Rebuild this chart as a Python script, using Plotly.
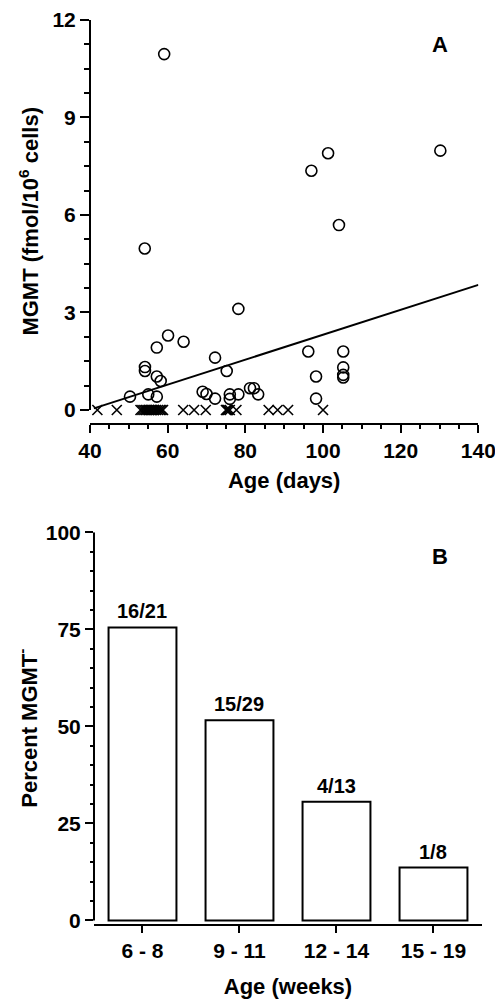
import plotly.graph_objects as go

# ---------------- Panel A data ----------------
pos_days = [59.1, 54.1, 78.2, 60.1, 64.1, 57.2, 72.2, 54.15, 54.15, 75.2,
            57.2, 58.2, 50.3, 55.0, 57.2, 69.0, 70.0, 72.2, 76.0, 76.0,
            78.2, 81.2, 82.2, 83.3, 96.2, 98.2, 98.2, 105.2, 105.2, 105.2,
            105.2, 97.0, 101.3, 104.1, 130.2]
pos_mgmt = [10.95, 4.97, 3.11, 2.29, 2.10, 1.92, 1.61, 1.32, 1.20, 1.20,
            1.03, 0.89, 0.41, 0.48, 0.41, 0.56, 0.49, 0.35, 0.48, 0.34,
            0.48, 0.67, 0.67, 0.48, 1.80, 1.03, 0.35, 1.80, 1.31, 1.08,
            1.00, 7.36, 7.90, 5.69, 7.98]

neg_days = [41.9, 46.9, 53.0, 53.5, 54.0, 54.4, 54.8, 55.2, 55.6, 56.0,
            56.5, 57.0, 57.5, 58.0, 58.4, 58.8, 64.0, 66.8, 69.8, 75.0,
            75.3, 75.6, 76.0, 77.7, 86.0, 88.3, 91.0, 100.0]
neg_mgmt = [0.0] * len(neg_days)

fit_days = [41.0, 140.0]
fit_mgmt = [0.05, 3.85]

# ---------------- Panel B data ----------------
week_groups = ["6 - 8", "9 - 11", "12 - 14", "15 - 19"]
pct_negative = [75.5, 51.6, 30.6, 13.6]
ratio_labels = ["16/21", "15/29", "4/13", "1/8"]

FONT = "Liberation Sans, Arial, sans-serif"

fig = go.Figure()

fig.add_trace(go.Scatter(
    x=fit_days, y=fit_mgmt, mode="lines",
    line=dict(color="black", width=2),
    xaxis="x", yaxis="y", showlegend=False, hoverinfo="skip"))

fig.add_trace(go.Scatter(
    x=pos_days, y=pos_mgmt, mode="markers",
    marker=dict(symbol="circle-open", size=11, color="black",
                line=dict(width=1.6, color="black")),
    xaxis="x", yaxis="y", showlegend=False, cliponaxis=False))

fig.add_trace(go.Scatter(
    x=neg_days, y=neg_mgmt, mode="markers",
    marker=dict(symbol="x-thin-open", size=10, color="black",
                line=dict(width=1.6, color="black")),
    xaxis="x", yaxis="y", showlegend=False, cliponaxis=False))

fig.add_trace(go.Bar(
    x=week_groups, y=pct_negative,
    marker=dict(color="white", line=dict(color="black", width=2)),
    width=0.7, xaxis="x2", yaxis="y2", showlegend=False))

tickfont = dict(family=FONT, size=21, color="black", weight="bold")
titlefont = dict(family=FONT, size=22, color="black", weight="bold")

annotations = [
    dict(text="A", x=130, y=11.26, xref="x", yref="y", showarrow=False,
         font=dict(family=FONT, size=22, color="black", weight="bold")),
    dict(text="B", x=3.07, y=93.7, xref="x2", yref="y2", showarrow=False,
         font=dict(family=FONT, size=22, color="black", weight="bold")),
]
for grp, val, lab in zip(week_groups, pct_negative, ratio_labels):
    annotations.append(dict(
        text=lab, x=grp, y=val, xref="x2", yref="y2", showarrow=False,
        yanchor="middle", yshift=16,
        font=dict(family=FONT, size=20, color="black", weight="bold")))

fig.update_layout(
    width=503, height=1006,
    margin=dict(l=82, r=29, t=12, b=90, autoexpand=False),
    paper_bgcolor="white", plot_bgcolor="white",
    font=dict(family=FONT, color="black", weight="bold"),
    xaxis=dict(
        domain=[0, 0.9908], range=[40, 140], anchor="y", automargin=False,
        tickmode="linear", tick0=40, dtick=20,
        ticks="outside", ticklen=8, tickwidth=2, tickcolor="black",
        minor=dict(dtick=5, tick0=40, ticks="outside", ticklen=4,
                   tickwidth=1.5, tickcolor="black"),
        showline=True, linecolor="black", linewidth=2,
        showgrid=False, zeroline=False, tickfont=tickfont,
        title=dict(text="Age (days)", font=titlefont, standoff=12)),
    yaxis=dict(
        domain=[0.5546, 1], range=[-0.39, 12], anchor="x", automargin=False,
        tickmode="linear", tick0=0, dtick=3,
        ticks="outside", ticklen=9, tickwidth=2, tickcolor="black",
        minor=dict(dtick=0.75, tick0=0, ticks="outside", ticklen=5,
                   tickwidth=1.5, tickcolor="black"),
        showline=False, showgrid=False, zeroline=False,
        tickfont=tickfont, ticklabelstandoff=0,
        title=dict(text="MGMT (fmol/10<sup>6</sup> cells)", font=titlefont,
                   standoff=7)),
    xaxis2=dict(
        domain=[0.0102, 1], range=[-0.5, 3.5], anchor="y2", automargin=False,
        ticks="outside", ticklen=7, tickwidth=2, tickcolor="black",
        showline=True, linecolor="black", linewidth=2,
        showgrid=False, zeroline=False, tickfont=tickfont,
        title=dict(text="Age (weeks)", font=titlefont, standoff=17)),
    yaxis2=dict(
        domain=[0, 0.4333], range=[-0.93, 100], anchor="x2", automargin=False,
        tickmode="linear", tick0=0, dtick=25,
        ticks="outside", ticklen=8, tickwidth=2, tickcolor="black",
        minor=dict(dtick=5, tick0=0, ticks="outside", ticklen=3,
                   tickwidth=1.5, tickcolor="black"),
        showline=False, showgrid=False, zeroline=False,
        tickfont=tickfont, ticklabelstandoff=0,
        title=dict(text="Percent MGMT<sup>-</sup>", font=titlefont,
                   standoff=2)),
    shapes=[
        dict(type="line", xref="x domain", yref="y", x0=0, x1=0, y0=0, y1=12,
             line=dict(color="black", width=2)),
        dict(type="line", xref="x2 domain", yref="y2", x0=0, x1=0, y0=0, y1=100,
             line=dict(color="black", width=2)),
    ],
    annotations=annotations,
)

fig.write_html("out.html")
